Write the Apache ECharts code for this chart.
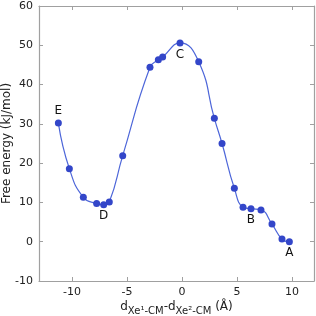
<!DOCTYPE html>
<html><head><meta charset="utf-8">
<script src="https://cdn.jsdelivr.net/npm/echarts@6/dist/echarts.min.js"></script>
<style>html,body{margin:0;padding:0;background:#fff}#c{width:316px;height:316px}</style>
</head><body><div id="c"></div>
<script>
const xValues = [-11.24,-10.24,-8.97,-7.76,-7.12,-6.61,-5.39,-2.91,-2.15,-1.76,-0.18,1.52,2.94,3.64,4.76,5.55,6.27,7.18,8.18,9.09,9.76];
const yValues = [30.2,18.6,11.3,9.7,9.4,10.1,21.9,44.4,46.3,47.0,50.6,45.8,31.4,25.0,13.6,8.8,8.4,8.1,4.5,0.7,0.0];
const pointLabels = ['E','','','','D','','','','','','C','','','','','','B','','','','A'];
const xTicks = [-10,-5,0,5,10];
const yTicks = [-10,0,10,20,30,40,50,60];

const frame = '#a0a0a0';
const font = 'DejaVu Sans';
const data = xValues.map((x,i)=>{
  const lab = pointLabels[i];
  const item = {value:[x,yValues[i]]};
  if (lab) item.label = {show:true, formatter:lab, position: lab==='E'?'top':'bottom', distance: lab==='E'?3:2};
  return item;
});
const line = {show:true,onZero:false,lineStyle:{color:frame,width:1.2}};
const chart = echarts.init(document.getElementById('c'), null, {renderer:'canvas'});
chart.setOption({
  animation:false,
  grid:{left:39,right:2,top:6,bottom:35,containLabel:false,outerBoundsMode:'none'},
  xAxis:[{
    type:'value',min:-13,max:12,position:'bottom',
    axisLine:line,
    axisTick:{show:true,inside:true,length:4,customValues:xTicks,lineStyle:{color:frame}},
    axisLabel:{customValues:xTicks,color:'#222',fontFamily:font,fontSize:11,margin:6},
    splitLine:{show:false},
    name:'{n|d}{s|Xe¹-CM}{n|-d}{s|Xe²-CM}{n| (Å)}',
    nameLocation:'middle',nameGap:20,nameMoveOverlap:false,
    nameTextStyle:{rich:{
      n:{fontFamily:font,fontSize:12,color:'#222',verticalAlign:'bottom'},
      s:{fontFamily:font,fontSize:10,color:'#222',verticalAlign:'bottom',padding:[0,0,-3,0]}
    }}
  },{
    type:'value',min:-13,max:12,position:'top',
    axisLine:line,
    axisTick:{show:true,inside:true,length:4,customValues:xTicks,lineStyle:{color:frame}},
    axisLabel:{show:false},splitLine:{show:false}
  }],
  yAxis:[{
    type:'value',min:-10,max:60,interval:10,position:'left',
    axisLine:line,
    axisTick:{show:true,inside:true,length:4,lineStyle:{color:frame}},
    axisLabel:{color:'#222',fontFamily:font,fontSize:11,margin:6},
    splitLine:{show:false},
    name:'Free energy (kJ/mol)',nameLocation:'middle',nameGap:26,nameMoveOverlap:false,
    nameTextStyle:{fontFamily:font,fontSize:12,color:'#222'}
  },{
    type:'value',min:-10,max:60,interval:10,position:'right',
    axisLine:line,
    axisTick:{show:true,inside:true,length:4,lineStyle:{color:frame}},
    axisLabel:{show:false},splitLine:{show:false}
  }],
  series:[{
    type:'line',xAxisIndex:0,yAxisIndex:0,data:data,smooth:0.5,
    symbol:'circle',symbolSize:7,
    lineStyle:{color:'#4d66d9',width:1.2},
    itemStyle:{color:'#3346c9'},
    label:{show:false,color:'#111',fontFamily:font,fontSize:12},
    emphasis:{disabled:true}
  }]
});
</script></body></html>
